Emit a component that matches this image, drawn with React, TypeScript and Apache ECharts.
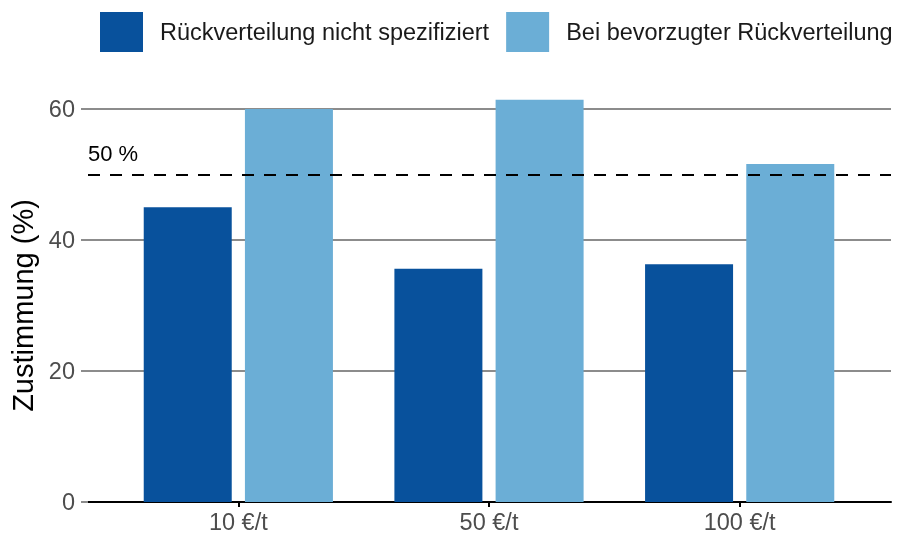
import React, { useEffect, useRef } from "react";
import * as echarts from "echarts";

const categories = ["10 €/t", "50 €/t", "100 €/t"];
const seriesNames = ["Rückverteilung nicht spezifiziert", "Bei bevorzugter Rückverteilung"];
const notSpecified = [45.0, 35.6, 36.3];
const preferred = [60.0, 61.4, 51.6];
const yTicks = [0, 20, 40, 60];
const threshold = 50;
const thresholdLabel = "50 %";

const FONT = "'Liberation Sans', Arial, sans-serif";

export default function App() {
  const ref = useRef<HTMLDivElement>(null);
  useEffect(() => {
    if (!ref.current) return;
    const chart = echarts.init(ref.current, null, { renderer: "svg" });
    const yMin = yTicks[0];
    const yMax = yTicks[yTicks.length - 1];
    const yInterval = yTicks[1] - yTicks[0];
    chart.setOption({
      animation: false,
      textStyle: { fontFamily: FONT },
      legend: {
        top: 12,
        left: 100,
        width: 798,
        padding: 0,
        itemWidth: 43,
        itemHeight: 40,
        itemGap: 17,
        icon: "rect",
        textStyle: { fontSize: 23.5, color: "#1a1a1a", fontFamily: FONT, padding: [0, 0, 0, 12] },
        data: seriesNames,
      },
      grid: [
        { left: 88, right: 7, top: 109, bottom: 34 },
        { left: 113, right: 33, top: 109, bottom: 34 },
      ],
      xAxis: [
        {
          gridIndex: 0,
          type: "value",
          min: 0,
          max: 1,
          axisLine: { show: true, lineStyle: { color: "#000", width: 2 } },
          axisTick: { show: false },
          axisLabel: { show: false },
          splitLine: { show: false },
        },
        {
          gridIndex: 1,
          type: "category",
          data: categories,
          axisLine: { show: false },
          axisTick: { show: true, alignWithLabel: true, length: 5, lineStyle: { color: "#000", width: 2 } },
          axisLabel: { fontSize: 23.5, color: "#4d4d4d", margin: 8, fontFamily: FONT },
        },
      ],
      yAxis: [
        {
          gridIndex: 0,
          type: "value",
          min: yMin,
          max: yMax,
          interval: yInterval,
          name: "Zustimmung (%)",
          nameLocation: "middle",
          nameGap: 50,
          nameTextStyle: { fontSize: 29, color: "#000", fontFamily: FONT },
          axisLine: { show: false },
          axisTick: { show: true, length: 7, lineStyle: { color: "#8c8c8c", width: 2 } },
          axisLabel: { fontSize: 23.5, color: "#4d4d4d", margin: 13, fontFamily: FONT },
          splitLine: { show: true, lineStyle: { color: "#8c8c8c", width: 2 } },
        },
        {
          gridIndex: 1,
          type: "value",
          min: yMin,
          max: yMax,
          interval: yInterval,
          show: false,
          splitLine: { show: false },
        },
      ],
      series: [
        {
          name: "threshold",
          type: "line",
          xAxisIndex: 0,
          yAxisIndex: 0,
          data: [],
          silent: true,
          markLine: {
            symbol: "none",
            silent: true,
            lineStyle: { color: "#000", type: [12, 10], width: 2 },
            label: {
              show: true,
              position: "insideStartTop",
              formatter: thresholdLabel,
              color: "#000",
              fontSize: 22,
              fontFamily: FONT,
              distance: [0, 10],
            },
            data: [{ yAxis: threshold }],
          },
        },
        {
          name: seriesNames[0],
          type: "bar",
          xAxisIndex: 1,
          yAxisIndex: 1,
          data: notSpecified,
          barWidth: 88,
          barGap: "15%",
          clip: false,
          itemStyle: { color: "#08519c" },
        },
        {
          name: seriesNames[1],
          type: "bar",
          xAxisIndex: 1,
          yAxisIndex: 1,
          data: preferred,
          barWidth: 88,
          barGap: "15%",
          clip: false,
          itemStyle: { color: "#6baed6" },
        },
      ],
    });
    return () => chart.dispose();
  }, []);
  return <div ref={ref} style={{ position: "fixed", left: 0, top: 0, width: 898, height: 536 }} />;
}
